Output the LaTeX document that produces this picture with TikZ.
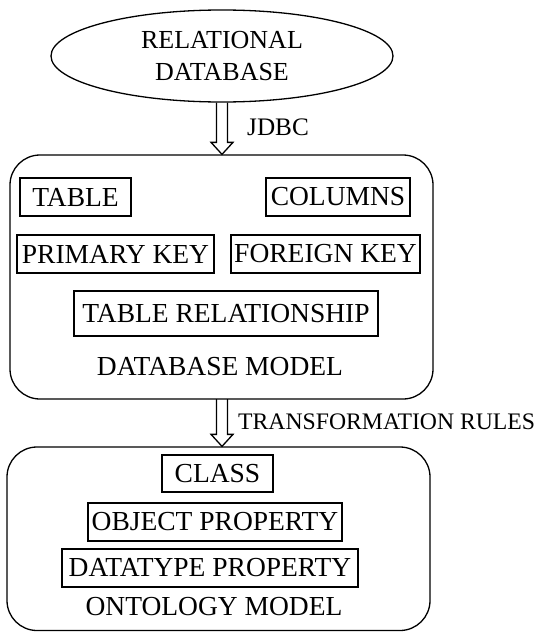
\documentclass[tikz,border=0pt]{standalone}
\usepackage{fontspec}
\setmainfont{Liberation Serif}
\usetikzlibrary{shapes.geometric,calc}
\begin{document}
\begin{tikzpicture}[x=1pt,y=-1pt,
  every node/.style={font=\fontsize{27.5}{32}\selectfont, inner sep=0pt},
  item/.style={draw, line width=1.3pt, minimum height=38pt},
  frame/.style={draw, line width=1.3pt, rounded corners=30pt},
  tag/.style={anchor=west, font=\fontsize{24.8}{30}\selectfont},
  hollow/.style={line width=1.3pt, to path={let \p1=(\tikztostart), \p2=(\tikztotarget) in
      (\x1-5.5pt,\y1) -- (\x1-5.5pt,\y2+12pt) -- (\x1-11pt,\y2+12pt) -- (\x1,\y2)
      -- (\x1+11pt,\y2+12pt) -- (\x1+5.5pt,\y2+12pt) -- (\x1+5.5pt,\y1)}}]
\useasboundingbox (0,0) rectangle (541,632);

% source database
\node[ellipse, draw, line width=1.3pt, minimum width=342pt, minimum height=92pt, align=center,
      font=\fontsize{26}{32}\selectfont]
  (rdb) at (222,56) {RELATIONAL\\DATABASE};

% database model
\node[frame, minimum width=423pt, minimum height=244pt] (dbm) at (221.5,277) {};
\node[item, minimum width=111pt] (table) at (75.5,197) {TABLE};
\node[item, minimum width=144pt] (columns) at (338,197) {COLUMNS};
\node[item, minimum width=197pt] (pk) at (115.5,254) {PRIMARY KEY};
\node[item, minimum width=189pt] (fk) at (325.5,254) {FOREIGN KEY};
\node[item, minimum width=304pt, minimum height=45pt] (trel) at (226,313.5) {TABLE RELATIONSHIP};
\node (dbmlabel) at (220,367) {DATABASE MODEL};

% ontology model
\node[frame, minimum width=423pt, minimum height=183.5pt] (ont) at (218.5,538.75) {};
\node[item, minimum width=111pt, minimum height=37pt] (class) at (217.5,473.5) {CLASS};
\node[item, minimum width=254pt] (objprop) at (215,522) {OBJECT PROPERTY};
\node[item, minimum width=296pt] (dtprop) at (210,568) {DATATYPE PROPERTY};
\node (ontlabel) at (214,607) {ONTOLOGY MODEL};

% transitions
\draw[hollow] (rdb.south) to (rdb.south |- dbm.north);
\node[tag, font=\fontsize{25.2}{30}\selectfont] (jdbc) at (247,127) {JDBC};
\draw[hollow] (222,399) coordinate (t2) to (t2 |- ont.north);
\node[tag, font=\fontsize{23.7}{30}\selectfont] (rules) at (238,422) {TRANSFORMATION RULES};
\end{tikzpicture}
\end{document}
